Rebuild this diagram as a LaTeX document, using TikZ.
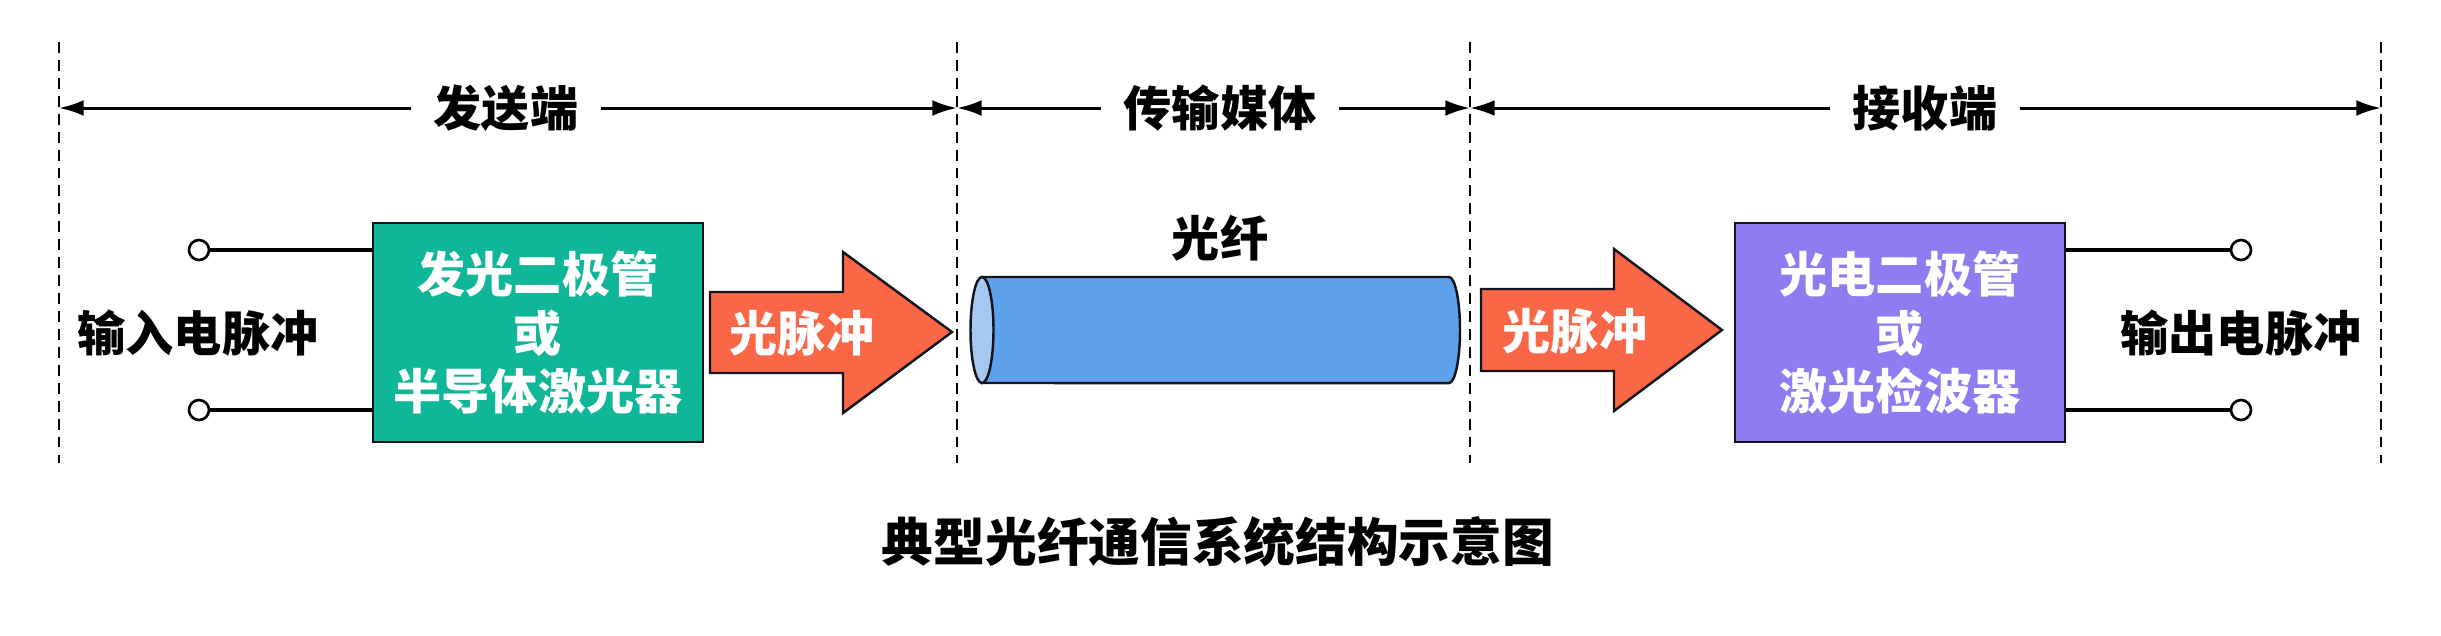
\documentclass[tikz,border=0pt]{standalone}
\usepackage{fontspec}
\setmainfont{Noto Sans CJK SC}[BoldFont={Noto Sans CJK SC Black}]
\usetikzlibrary{arrows.meta}
\definecolor{boxgreen}{RGB}{16,182,152}
\definecolor{boxpurple}{RGB}{142,124,240}
\definecolor{pulseorange}{RGB}{250,103,70}
\definecolor{fibreblue}{RGB}{93,162,234}
\definecolor{fibreface}{RGB}{165,200,240}
\definecolor{edgedark}{RGB}{20,20,30}
\begin{document}
\begin{tikzpicture}[x=0.01cm,y=0.01cm,
  lab/.style={font=\fontsize{13.7}{16.5}\selectfont\bfseries, inner sep=0pt},
  dimlab/.style={lab, inner xsep=0.22cm},
  whitelab/.style={lab, text=white, align=center},
  dashline/.style={draw=black, line width=0.55pt, dash pattern=on 3.1pt off 2pt},
  dimarrow/.style={draw=black, line width=0.85pt, -{Latex[length=7pt,width=4.5pt]}},
  devbox/.style={draw=edgedark, line width=0.7pt, minimum width=3.3cm, minimum height=2.19cm, whitelab},
  terminal/.style={circle, draw=black, fill=white, line width=0.75pt, minimum size=0.2cm, inner sep=0pt},
  wire/.style={draw=black, line width=1.1pt},
  pulse/.style={fill=pulseorange, draw=edgedark, line width=0.7pt, line join=miter},
  fibre/.style={fill=fibreblue, draw=edgedark, line width=0.7pt}]
\useasboundingbox (0,0) rectangle (2441,635);

% dashed separators
\foreach \n/\x in {1/59,2/957,3/1470,4/2381}{
  \coordinate (t\n) at (\x,593);
  \coordinate (b\n) at (\x,172);
  \coordinate (m\n) at (\x,527);
  \draw[dashline] (t\n) -- (b\n);
}

% dimension labels and arrows
\node[dimlab] (send) at (506,527) {发送端};
\node[dimlab] (media) at (1220,527) {传输媒体};
\node[dimlab] (recv) at (1925,527) {接收端};
\draw[dimarrow] (send.west) -- (m1);
\draw[dimarrow] (send.east) -- (m2);
\draw[dimarrow] (media.west) -- (m2);
\draw[dimarrow] (media.east) -- (m3);
\draw[dimarrow] (recv.west) -- (m3);
\draw[dimarrow] (recv.east) -- (m4);

% transmitter
\node[devbox, fill=boxgreen] (tx) at (538,302.5) {发光二极管\\或\\半导体激光器};
\node[terminal] (ti1) at (199,385) {};
\node[terminal] (ti2) at (199,225) {};
\draw[wire] (ti1) -- (tx.west |- ti1);
\draw[wire] (ti2) -- (tx.west |- ti2);
\node[lab] (inlab) at (198,302) {输入电脉冲};

% pulse arrow 1
\path[pulse] (710,343) -- (843,343) -- (843,383) -- (952,303) -- (843,222) -- (843,262) -- (710,262) -- cycle;
\node[whitelab] (p1) at (802,302) {光脉冲};

% fibre
\path[fibre] (982,358) -- (1449,358) arc[start angle=90, end angle=-90, x radius=0.11cm, y radius=0.53cm] -- (982,252) -- cycle;
\filldraw[fill=fibreface, draw=edgedark, line width=0.7pt] (982,305) ellipse[x radius=0.115cm, y radius=0.53cm];
\node[lab] (fibrelab) at (1220,397) {光纤};

% pulse arrow 2
\path[pulse] (1481,346) -- (1614,346) -- (1614,386) -- (1722,305) -- (1614,224) -- (1614,264) -- (1481,264) -- cycle;
\node[whitelab] (p2) at (1575,304) {光脉冲};

% receiver
\node[devbox, fill=boxpurple] (rx) at (1900,302.5) {光电二极管\\或\\激光检波器};
\node[terminal] (to1) at (2241,385) {};
\node[terminal] (to2) at (2241,225) {};
\draw[wire] (rx.east |- to1) -- (to1);
\draw[wire] (rx.east |- to2) -- (to2);
\node[lab] (outlab) at (2241,302) {输出电脉冲};

% caption
\node[lab, font=\fontsize{14.7}{17}\selectfont\bfseries] (cap) at (1218,93.5) {典型光纤通信系统结构示意图};
\end{tikzpicture}
\end{document}
